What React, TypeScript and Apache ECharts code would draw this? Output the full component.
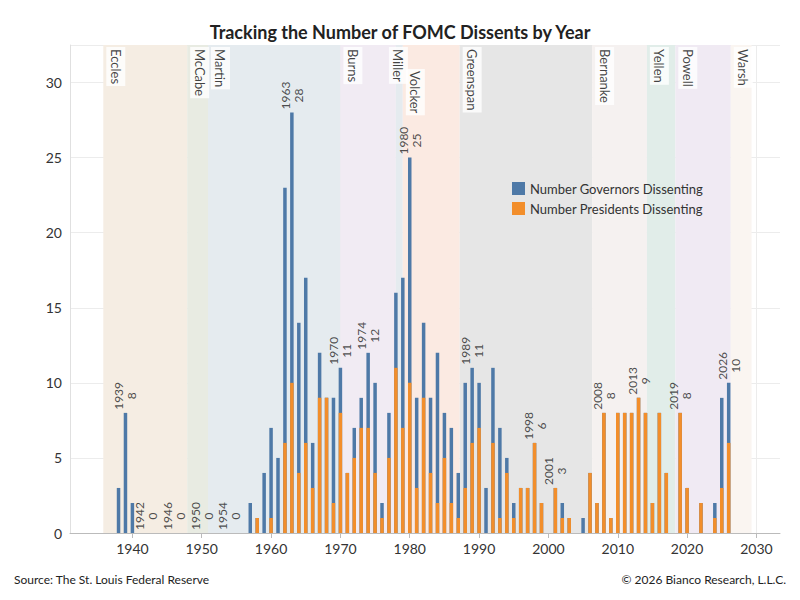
import React, { useEffect, useRef } from "react";
import * as echarts from "echarts";

const years = [1938,1939,1940,1957,1958,1959,1960,1961,1962,1963,1964,1965,1966,1967,1968,1969,1970,1971,1972,1973,1974,1975,1976,1977,1978,1979,1980,1981,1982,1983,1984,1985,1986,1987,1988,1989,1990,1991,1992,1993,1994,1995,1996,1997,1998,1999,2001,2002,2003,2005,2006,2007,2008,2009,2010,2011,2012,2013,2014,2015,2016,2017,2019,2020,2022,2024,2025,2026];
const totals = [3,8,2,2,1,4,7,5,23,28,14,17,6,12,9,9,11,4,7,9,12,10,2,8,16,17,25,9,14,9,12,8,7,4,10,11,10,3,11,7,5,2,3,3,6,2,3,2,1,1,4,2,8,1,8,8,8,9,8,2,8,4,8,3,2,2,9,10];
const presidents = [0,0,0,0,1,0,1,0,6,10,4,6,3,9,9,2,8,4,5,7,7,4,1,5,11,7,10,3,9,4,2,5,2,1,3,6,7,0,6,1,4,1,3,3,6,2,3,1,1,0,4,2,8,1,8,8,8,9,8,2,8,4,8,3,2,1,3,6];

const labelYears = [1939,1942,1946,1950,1954,1963,1970,1974,1980,1989,1998,2001,2008,2013,2019,2026];
const labelValues = [8,0,0,0,0,28,11,12,25,11,6,3,8,9,8,10];

const chairs = ["Eccles","McCabe","Martin","Burns","Miller","Volcker","Greenspan","Bernanke","Yellen","Powell","Warsh"];
const chairStart = [1935.8,1947.9,1950.9,1970,1978,1979,1987.2,2006.3,2014.2,2018.3,2026.3];
const chairEnd = [1947.9,1950.9,1970,1978,1979,1987.2,2006.3,2014.2,2018.3,2026.3,2029.3];
const chairColors = ["#f5ede3","#e8ebe2","#e5ebef","#f1ebf3","#e5ebef","#fbeae2","#e6e6e6","#f5f1f0","#e1ede9","#f0eaf3","#faf5f1"];
const decadeTicks = [1940,1950,1960,1970,1980,1990,2000,2010,2020,2030];

const FONT = "Lato";

export default function App() {
  const ref = useRef<HTMLDivElement>(null);
  useEffect(() => {
    const chart = echarts.init(ref.current!, null, { renderer: "svg" });
    const chairLabelPos = (name: string): [number, number] =>
      name === "Miller" ? [-7, 2] : name === "Volcker" ? [3, 24] : [3, 2];
    chart.setOption({
      animation: false,
      textStyle: { fontFamily: FONT },
      title: {
        text: "Tracking the Number of FOMC Dissents by Year",
        left: "center",
        top: 18,
        textStyle: { fontFamily: FONT, fontSize: 18, fontWeight: "bold", color: "#222" },
      },
      graphic: [
        { type: "text", left: 14, top: 573, style: { text: "Source: The St. Louis Federal Reserve", font: `12px ${FONT}`, fill: "#222" } },
        { type: "text", right: 14, top: 573, style: { text: "© 2026 Bianco Research, L.L.C.", font: `12px ${FONT}`, fill: "#222" } },
      ],
      legend: {
        data: ["Number Governors Dissenting", "Number Presidents Dissenting"],
        orient: "vertical",
        left: 507,
        top: 177,
        itemWidth: 13,
        itemHeight: 13,
        itemGap: 7,
        icon: "rect",
        textStyle: { fontFamily: FONT, fontSize: 13, color: "#333" },
      },
      grid: { left: 70, right: 20, top: 45, bottom: 67 },
      xAxis: {
        type: "value",
        min: 1931,
        max: 2033.4,
        axisLine: { show: true, lineStyle: { color: "#bbb" } },
        axisTick: { show: true, customValues: decadeTicks, length: 5, lineStyle: { color: "#bbb" } },
        axisLabel: { customValues: decadeTicks, fontFamily: FONT, fontSize: 14, color: "#333", margin: 8,
          formatter: (v: number) => String(v) },
        splitLine: { show: true, lineStyle: { color: "#ececec" } },
      },
      yAxis: {
        type: "value",
        min: 0,
        max: 32.5,
        interval: 5,
        axisLine: { show: true, lineStyle: { color: "#e0e0e0" } },
        axisTick: { show: false },
        axisLabel: { fontFamily: FONT, fontSize: 14, color: "#333", margin: 8,
          formatter: (v: number) => (v > 30 ? "" : String(v)) },
        splitLine: { show: true, lineStyle: { color: "#ececec" } },
      },
      series: [
        {
          name: "bands",
          type: "scatter",
          z: 1,
          silent: true,
          symbolSize: 0,
          data: chairStart.map((s, i) => ({
            value: [s, 32.5],
            label: { position: chairLabelPos(chairs[i]) },
          })),
          label: {
            show: true,
            rotate: -90,
            align: "left",
            verticalAlign: "bottom",
            formatter: (p: any) => chairs[p.dataIndex],
            backgroundColor: "#fff",
            padding: [3, 2, 3, 2],
            fontFamily: FONT,
            fontSize: 13,
            color: "#111",
          },
          markArea: {
            silent: true,
            data: chairs.map((c, i) => [
              { xAxis: chairStart[i], itemStyle: { color: chairColors[i] } },
              { xAxis: chairEnd[i] },
            ]),
          },
        },
        {
          name: "Number Governors Dissenting",
          type: "bar",
          z: 3,
          barWidth: 3.5,
          barGap: "-100%",
          itemStyle: { color: "#4e79a7" },
          data: years.map((y, i) => [y, totals[i]]),
        },
        {
          name: "Number Presidents Dissenting",
          type: "bar",
          z: 3,
          barWidth: 3.5,
          barGap: "-100%",
          itemStyle: { color: "#f28e2b" },
          data: years.map((y, i) => [y, presidents[i]]),
        },
        {
          name: "yearLabels",
          type: "scatter",
          z: 4,
          silent: true,
          symbolSize: 0,
          data: labelYears.map((y, i) => [y, labelValues[i]]),
          label: {
            show: true,
            position: [-6.5, -17],
            rotate: 90,
            align: "center",
            verticalAlign: "middle",
            formatter: (p: any) => String(labelYears[p.dataIndex]),
            fontFamily: FONT,
            fontSize: 12,
            color: "#222",
          },
        },
        {
          name: "valueLabels",
          type: "scatter",
          z: 4,
          silent: true,
          symbolSize: 0,
          data: labelYears.map((y, i) => [y, labelValues[i]]),
          label: {
            show: true,
            position: [6.5, -17],
            rotate: 90,
            align: "center",
            verticalAlign: "middle",
            formatter: (p: any) => String(labelValues[p.dataIndex]),
            fontFamily: FONT,
            fontSize: 12,
            color: "#222",
          },
        },
      ],
    });
    return () => chart.dispose();
  }, []);
  return <div ref={ref} style={{ width: 800, height: 600, position: "absolute", left: 0, top: 0 }} />;
}
